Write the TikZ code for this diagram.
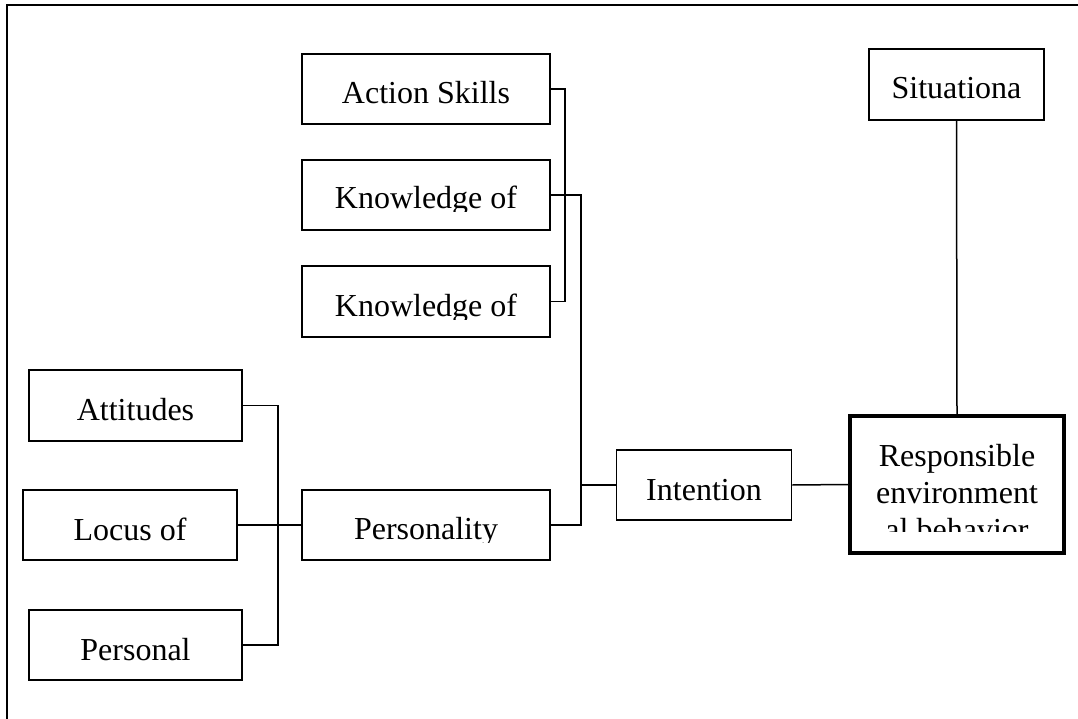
\documentclass[tikz,border=0pt]{standalone}
\usepackage{fontspec}
\setmainfont{Liberation Serif}
\begin{document}
\tikzset{
  box/.style={draw, rectangle, line width=1.5pt, inner sep=0pt},
  thickbox/.style={draw, rectangle, line width=3.2pt, inner sep=0pt},
  lbl/.style={anchor=base, inner sep=0pt, font=\fontsize{32}{38}\selectfont},
  conn/.style={line width=1.5pt},
  frame/.style={line width=2pt},
}
\begin{tikzpicture}[x=1pt, y=-1pt]
\useasboundingbox (0,0) rectangle (1078,719);
% frame (cropped)
\draw[frame] (7,719) -- (7,5) -- (1078,5);

% boxes
\node[box, minimum width=248pt, minimum height=70pt] (act) at (426,89) {};
\node[box, minimum width=248pt, minimum height=70pt] (kn1) at (426,195) {};
\node[box, minimum width=248pt, minimum height=71pt] (kn2) at (426,301.5) {};
\node[box, minimum width=213pt, minimum height=71pt] (att) at (135.5,405.5) {};
\node[box, minimum width=214pt, minimum height=70pt] (loc) at (130,525) {};
\node[box, minimum width=213pt, minimum height=70pt] (per) at (135.5,645) {};
\node[box, minimum width=248pt, minimum height=70pt] (pers) at (426,525) {};
\node[box, minimum width=175pt, minimum height=70pt] (int) at (704,485) {};
\node[box, minimum width=175pt, minimum height=71pt] (sit) at (956.5,84.5) {};
\node[thickbox, minimum width=214pt, minimum height=137pt] (resp) at (957,484.5) {};

% labels
\node[lbl] at (426,104) {Action Skills};
\begin{scope}
  \clip (302,160) rectangle (550,212);
  \node[lbl] at (426,209) {Knowledge of};
\end{scope}
\begin{scope}
  \clip (302,266) rectangle (550,319);
  \node[lbl] at (426,316) {Knowledge of};
\end{scope}
\node[lbl] at (135.5,420) {Attitudes};
\node[lbl] at (130,540) {Locus of};
\node[lbl] at (135.5,660) {Personal};
\begin{scope}
  \clip (302,490) rectangle (550,542);
  \node[lbl] at (426,539) {Personality};
\end{scope}
\node[lbl] at (704,500) {Intention};
\node[lbl] at (956.5,99) {Situationa};
\begin{scope}
  \clip (850,416) rectangle (1064,531);
  \node[lbl] at (957,466) {Responsible};
  \node[lbl] at (957,503) {environment};
  \node[lbl] at (957,540) {al behavior};
\end{scope}

% connectors
\coordinate (sx) at (565,0);
\coordinate (kx) at (581,0);
\coordinate (ax) at (278,0);
\draw[conn] (act.east) -| (sx |- kn2.east) -- (kn2.east);
\draw[conn] (kn1.east) -| (kx |- pers.east) -- (pers.east);
\draw[conn] (kx |- int.west) -- (int.west);
\draw[conn] (att.east) -| (ax |- per.east) -- (per.east);
\draw[conn] (loc.east) -- (pers.west);
\draw[conn] (int.east) -- (resp.west);
\draw[conn] (sit.south) -- (resp.north);
\end{tikzpicture}
\end{document}
